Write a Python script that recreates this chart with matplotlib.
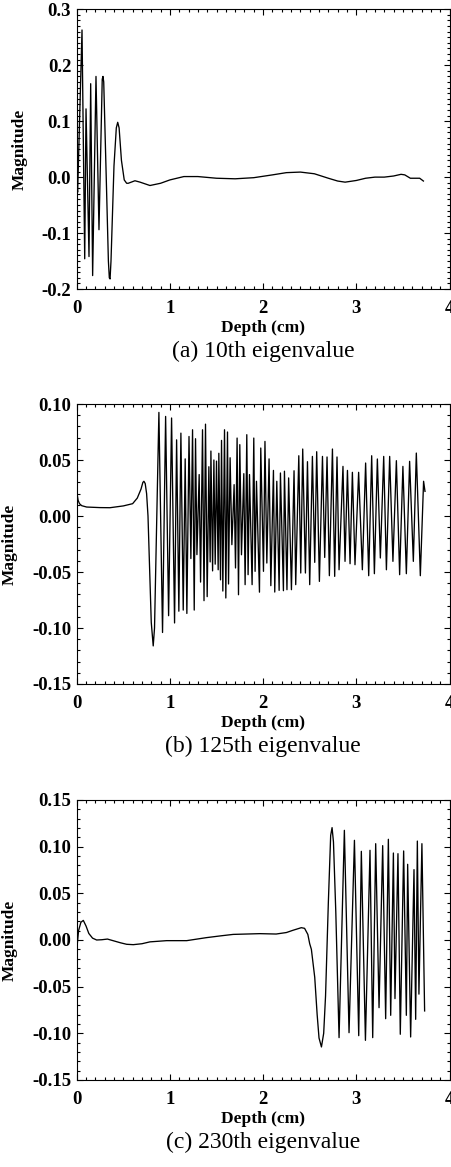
import matplotlib
matplotlib.use("Agg")
import matplotlib.pyplot as plt
from matplotlib.ticker import MultipleLocator, FormatStrFormatter

# --- (a) 10th eigenvalue ---
depth_a = [0.0, 0.01, 0.057, 0.086, 0.100, 0.132, 0.150, 0.171, 0.207, 0.239,
           0.274, 0.282, 0.290, 0.320, 0.340, 0.350, 0.358, 0.368, 0.400, 0.425,
           0.440, 0.455, 0.480, 0.510, 0.536, 0.553, 0.625, 0.680, 0.786, 0.900,
           1.00, 1.15, 1.30, 1.50, 1.70, 1.90, 2.10, 2.25, 2.40, 2.55, 2.70, 2.80,
           2.88, 3.00, 3.10, 3.20, 3.30, 3.40, 3.48, 3.52, 3.58, 3.64, 3.68, 3.72]
mag_a = [-0.010, -0.027, 0.263, -0.146, 0.122, -0.142, 0.167, -0.176, 0.180, -0.094,
         0.175, 0.180, 0.170, -0.020, -0.150, -0.180, -0.182, -0.150, 0.020, 0.088,
         0.098, 0.088, 0.030, -0.005, -0.011, -0.011, -0.0065, -0.009, -0.015, -0.011,
         -0.005, 0.001, 0.001, -0.002, -0.003, -0.001, 0.004, 0.008, 0.009, 0.006, -0.002, -0.007,
         -0.009, -0.006, -0.002, 0.0, 0.0, 0.002, 0.005, 0.004, -0.002, -0.002, -0.002, -0.007]

# --- (b) 125th eigenvalue ---
depth_b = [0.0, 0.015, 0.03, 0.054, 0.107, 0.25, 0.357, 0.50, 0.60, 0.65, 0.69, 0.71,
           0.721, 0.735, 0.75, 0.765, 0.78, 0.80, 0.821, 0.835, 0.86, 0.882, 0.921,
           0.954, 0.986, 1.018, 1.050, 1.072,
           1.096, 1.118, 1.143, 1.164, 1.182, 1.205, 1.225, 1.243, 1.261, 1.275, 1.29,
           1.314, 1.329, 1.35, 1.366, 1.382, 1.40, 1.418, 1.432, 1.44, 1.458, 1.472,
           1.486, 1.50, 1.518, 1.525, 1.543, 1.554, 1.568, 1.586, 1.60, 1.618, 1.629,
           1.646, 1.665, 1.689, 1.704, 1.721, 1.736, 1.75, 1.768, 1.793, 1.807, 1.825,
           1.839, 1.854, 1.882, 1.90, 1.914, 1.929, 1.961, 1.975, 2.004, 2.02, 2.04,
           2.064, 2.083, 2.111, 2.125, 2.147, 2.172, 2.186, 2.218, 2.229, 2.256, 2.274,
           2.304, 2.332, 2.35, 2.383, 2.404, 2.425, 2.454, 2.476, 2.50, 2.529, 2.554,
           2.575, 2.604, 2.637, 2.661, 2.686, 2.711, 2.744, 2.768, 2.793, 2.815, 2.857,
           2.879, 2.905, 2.933, 2.958, 2.986, 3.025, 3.065, 3.10, 3.133, 3.165, 3.194,
           3.226, 3.258, 3.294, 3.323, 3.358, 3.393, 3.43, 3.465, 3.50, 3.537, 3.572,
           3.612, 3.644, 3.687, 3.722, 3.737]
mag_b = [0.022, 0.014, 0.011, 0.0092, 0.008, 0.0075, 0.0074, 0.009, 0.011, 0.016, 0.024, 0.030,
         0.031, 0.029, 0.020, 0.0, -0.040, -0.095, -0.116, -0.100, 0.000, 0.0925, -0.104,
         0.0889, -0.089, 0.0875, -0.0955, 0.068,
         -0.085, 0.074, -0.084, 0.051, -0.087, 0.071, -0.038, 0.077, -0.084, 0.069, -0.0345,
         0.037, -0.059, 0.077, -0.0756, 0.082, -0.072, 0.044, -0.041, 0.058, -0.049, 0.050,
         -0.043, 0.049, -0.048, 0.056, -0.057, 0.0675, -0.067, 0.077, -0.0732, 0.075, -0.0607,
         0.052, -0.0256, 0.028, -0.0464, 0.0696, -0.0703, 0.0637, -0.0346, 0.0378, -0.0613, 0.0726,
         -0.0524, 0.037, -0.0613, 0.0696, -0.0494, 0.031, -0.068, 0.0607, -0.0494, 0.0666, -0.042,
         0.051, -0.0622, 0.0407, -0.0679, 0.031, -0.0664, 0.0384, -0.0667, 0.040, -0.0658, 0.034,
         -0.0658, 0.0404, -0.0613, 0.0538, -0.0509, 0.0598, -0.0509, 0.0485, -0.0613, 0.0532, -0.0414,
         0.0574, -0.0584, 0.0532, -0.037, 0.0527, -0.0533, 0.0598, -0.0539, 0.0527, -0.048, 0.0443,
         -0.0405, 0.0407, -0.0426, 0.039, -0.0435, 0.039, -0.048, 0.0473, -0.0533, 0.0538, -0.0515,
         0.0509, -0.0375, 0.0532, -0.048, 0.0532, -0.0405, 0.0494, -0.0524, 0.0443, -0.0515, 0.0488,
         -0.0405, 0.0562, -0.0533, 0.031, 0.022]

# --- (c) 230th eigenvalue ---
depth_c = [0.0, 0.02, 0.045, 0.071, 0.10, 0.13, 0.17, 0.214, 0.27, 0.33, 0.40, 0.47,
           0.536, 0.607, 0.70, 0.786, 0.965, 1.18, 1.39, 1.55, 1.679, 1.965, 2.14, 2.25,
           2.32, 2.41, 2.445, 2.48, 2.50, 2.518, 2.554, 2.58, 2.60, 2.626, 2.65, 2.67,
           2.70, 2.725, 2.74, 2.755, 2.78, 2.815, 2.872, 2.922, 2.98, 3.026,
           3.054, 3.098, 3.147, 3.176, 3.208, 3.244, 3.283, 3.315, 3.344, 3.369, 3.398,
           3.415, 3.447, 3.472, 3.508, 3.537, 3.551, 3.583, 3.619, 3.637, 3.655, 3.672,
           3.704, 3.733]
mag_c = [-0.011, 0.010, 0.019, 0.021, 0.015, 0.007, 0.002, 0.0, 0.0003, 0.001, -0.001, -0.003,
         -0.0046, -0.005, -0.004, -0.002, -0.0007, -0.0007, 0.0025, 0.0045, 0.006, 0.0068, 0.0064, 0.008,
         0.0104, 0.0132, 0.0125, 0.006, -0.004, -0.010, -0.040, -0.080,
         -0.105, -0.1146, -0.100, -0.060, 0.040, 0.112, 0.1204, 0.105, 0.030, -0.1046, 0.1175,
         -0.0993, 0.1068, -0.1025,
         0.095, -0.1075, 0.0961, -0.1046, 0.1032, -0.0725, 0.1011, -0.0843, 0.1079, -0.0807, 0.0932,
         -0.0628, 0.0925, -0.101, 0.0954, -0.0807, 0.0811, -0.1039, 0.0754, -0.085, 0.106, -0.058,
         0.1032, -0.076]

captions = ["(a) 10th eigenvalue", "(b) 125th eigenvalue", "(c) 230th eigenvalue"]
ylims = [(-0.2, 0.3), (-0.15, 0.10), (-0.15, 0.15)]
ymajor = [0.1, 0.05, 0.05]
yfmt = ["%.1f", "%.2f", "%.2f"]

plt.rcParams["font.family"] = "Liberation Serif"

W, H = 452, 1167
fig = plt.figure(figsize=(W / 100, H / 100), dpi=100)

# axes boxes in pixels: left, top, right, bottom
boxes = [(76.7, 9.3, 449.5, 289), (76.7, 404, 449.5, 684), (76.7, 800, 449.5, 1080)]
series = [(depth_a, mag_a), (depth_b, mag_b), (depth_c, mag_c)]

for i, (l, t, r, b) in enumerate(boxes):
    ax = fig.add_axes([l / W, 1 - b / H, (r - l) / W, (b - t) / H])
    x, y = series[i]
    ax.plot(x, y, color="black", lw=0.95)
    ax.set_xlim(0, 4)
    ax.set_ylim(*ylims[i])
    ax.xaxis.set_major_locator(MultipleLocator(1))
    ax.xaxis.set_minor_locator(MultipleLocator(0.1))
    ax.yaxis.set_major_locator(MultipleLocator(ymajor[i]))
    ax.yaxis.set_minor_locator(MultipleLocator(0.01))
    ax.yaxis.set_major_formatter(FormatStrFormatter(yfmt[i]))
    ax.tick_params(which="both", direction="in", top=True, right=True, width=0.8)
    ax.tick_params(which="major", length=4)
    ax.tick_params(which="minor", length=2)
    ax.tick_params(axis="x", which="major", pad=8)
    ax.tick_params(axis="y", which="major", pad=4)
    for lab in ax.get_xticklabels() + ax.get_yticklabels():
        lab.set_fontweight("bold")
        lab.set_fontsize(13.5)
    for sp in ax.spines.values():
        sp.set_linewidth(0.8)
    ax.set_xlabel("Depth (cm)", fontsize=12.5, fontweight="bold", labelpad=2)
    ax.set_ylabel("Magnitude", fontsize=12.5, fontweight="bold", labelpad=10)
    fig.text((l + r) / 2 / W, 1 - (b + 62) / H, captions[i],
             ha="center", va="center", fontsize=17)

fig.savefig("out.png", dpi=100)
